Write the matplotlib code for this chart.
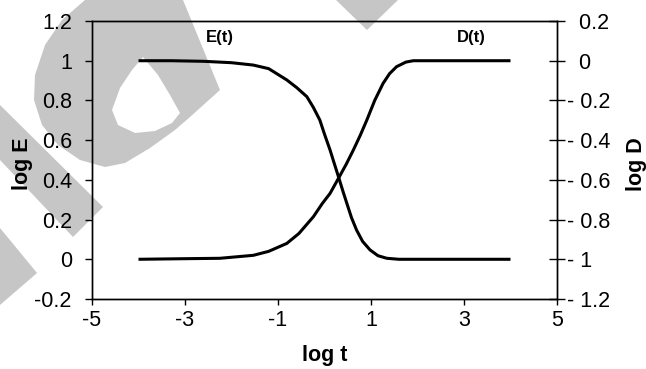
import matplotlib
matplotlib.use("Agg")
import matplotlib.pyplot as plt
from matplotlib.patches import Polygon
from matplotlib.ticker import FuncFormatter

plt.rcParams['font.family'] = ['Liberation Sans', 'DejaVu Sans']

# values
e_x = [-4.0, -3.3, -2.6, -2.0, -1.53, -1.2, -0.81, -0.6, -0.38, -0.24, -0.10, 0.0,
       0.12, 0.20, 0.30, 0.40, 0.48, 0.58, 0.69, 0.82, 0.98, 1.15, 1.34, 1.6, 2.5, 4.0]
log_e = [1.0, 1.0, 0.997, 0.99, 0.978, 0.96, 0.903, 0.865, 0.819, 0.765, 0.701, 0.63,
         0.55, 0.49, 0.416, 0.34, 0.282, 0.21, 0.147, 0.09, 0.047, 0.018, 0.005, 0.0, 0.0, 0.0]

d_x = [-4.0, -3.0, -2.25, -1.53, -1.2, -0.81, -0.55, -0.24, -0.05, 0.12, 0.32, 0.47,
       0.62, 0.77, 0.91, 1.08, 1.26, 1.4, 1.55, 1.75, 1.91, 2.5, 4.0]
log_d = [-1.0, -0.997, -0.995, -0.98, -0.96, -0.92, -0.87, -0.786, -0.72, -0.668, -0.584, -0.52,
         -0.45, -0.375, -0.299, -0.20, -0.114, -0.065, -0.03, -0.007, 0.0, 0.0, 0.0]

x_ticks = [-5, -3, -1, 1, 3, 5]
e_ticks = [-0.2, 0, 0.2, 0.4, 0.6, 0.8, 1, 1.2]
d_ticks = [-1.2, -1, -0.8, -0.6, -0.4, -0.2, 0, 0.2]

fig = plt.figure(figsize=(6.46, 3.69), dpi=100)

# light grey watermark behind the chart (figure pixels, y from top)
W, H = 646.0, 369.0
def px(pts):
    return [(x / W, 1 - y / H) for x, y in pts]
grey = '#c6c6c6'
shapes = [
    (grey, [(85, 0), (62, 20), (45, 45), (35, 75), (34, 100), (42, 125), (58, 145), (80, 160),
            (105, 167), (125, 163), (150, 148), (175, 130), (190, 117), (220, 90), (183, 0)]),
    ('white', [(143, 57), (132, 70), (120, 88), (112, 110), (118, 125), (135, 133), (155, 131),
               (172, 123), (180, 113), (170, 95), (158, 75)]),
    (grey, [(0, 105), (103, 207), (73, 237), (0, 160)]),
    (grey, [(0, 228), (37, 273), (0, 305)]),
    (grey, [(336, 0), (398, 0), (367, 30)]),
]
for i, (c, pts) in enumerate(shapes):
    fig.patches.append(Polygon(px(pts), closed=True, transform=fig.transFigure,
                               facecolor=c, edgecolor='none', zorder=-5 + 0.1 * i))

ax = fig.add_axes([92 / W, 1 - 299 / H, 465 / W, 278 / H])
ax.patch.set_alpha(0)
ax2 = ax.twinx()

ax.plot(e_x, log_e, color='black', lw=2.2, solid_capstyle='butt')
ax2.plot(d_x, log_d, color='black', lw=2.2, solid_capstyle='butt')

ax.set_xlim(-5, 5)
ax.set_ylim(-0.2, 1.2)
ax2.set_ylim(-1.2, 0.2)
ax.set_xticks(x_ticks)
ax.set_yticks(e_ticks)
ax2.set_yticks(d_ticks)

fmt = FuncFormatter(lambda v, p: '%g' % round(v, 2))
ax.yaxis.set_major_formatter(fmt)
ax.xaxis.set_major_formatter(fmt)
# right axis: digits line up, minus sign hangs in front
ax2.yaxis.set_major_formatter(FuncFormatter(
    lambda v, p: ('- ' if v < -1e-9 else '  ') + '%g' % abs(round(v, 2))))

for a in (ax, ax2):
    for s in a.spines.values():
        s.set_linewidth(1.0)
        s.set_color('black')

ax.tick_params(axis='y', direction='out', length=5, width=1, pad=9.5, labelsize=15.5)
ax.tick_params(axis='x', direction='out', length=4.3, width=1, pad=3.6, labelsize=15.5)
ax2.tick_params(axis='y', direction='inout', length=11, width=1, pad=2, labelsize=15.5)

ax.set_xlabel('log t', fontsize=15.5, fontweight='bold', va='top')
ax.xaxis.set_label_coords(0.5, -0.165)
ax.set_ylabel('log E', fontsize=15.5, fontweight='bold')
ax.yaxis.set_label_coords(-0.127, 0.487)
fig.text(626 / W, 1 - 164 / H, 'log D', rotation=90, fontsize=15.5, fontweight='bold',
         ha='left', va='center')

ax.text(-2.25, 1.115, 'E(t)', fontsize=12, fontweight='bold', ha='center', va='center')
ax2.text(3.15, 0.115, 'D(t)', fontsize=12, fontweight='bold', ha='center', va='center')

fig.savefig('out.png', dpi=100)
